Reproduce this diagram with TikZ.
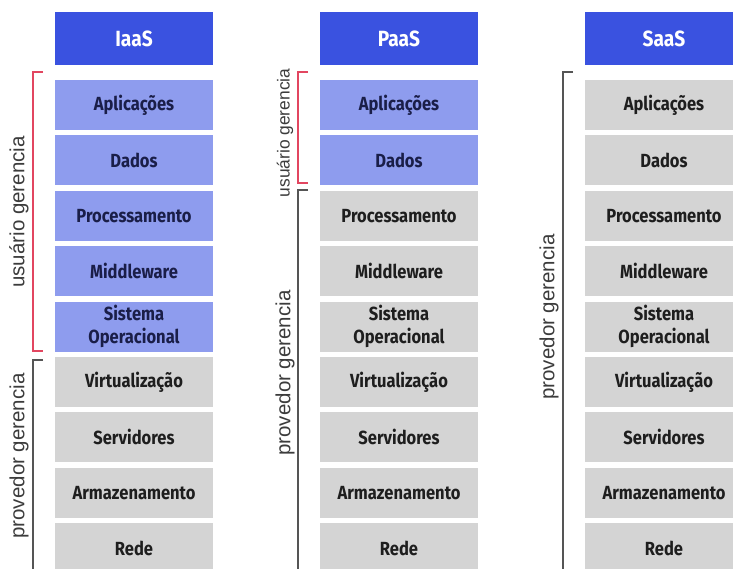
\documentclass[tikz,border=0pt]{standalone}
\usepackage{fontspec}
\setmainfont{Fira Sans}[FakeStretch=0.87]
\newfontfamily\labelfont{Liberation Sans}
\definecolor{hdblue}{RGB}{58,82,224}
\definecolor{usblue}{RGB}{142,156,238}
\definecolor{cellgray}{RGB}{212,212,212}
\definecolor{navy}{RGB}{26,30,72}
\definecolor{txtgray}{RGB}{30,30,30}
\definecolor{brred}{RGB}{226,70,96}
\definecolor{brgray}{RGB}{85,85,85}
\definecolor{labgray}{RGB}{60,60,60}
\begin{document}
\begin{tikzpicture}[x=1pt,y=-1pt,
  cell/.style={minimum width=158pt,minimum height=50pt,inner sep=0pt,align=center,
    font=\fontsize{19}{22.5}\selectfont\bfseries},
  head/.style={cell,minimum height=53pt,fill=hdblue,text=white,
    font=\fontsize{22}{26}\selectfont\bfseries},
  user/.style={cell,fill=usblue,text=navy},
  prov/.style={cell,fill=cellgray,text=txtgray},
  ubr/.style={draw=brred,line width=1.3pt},
  pbr/.style={draw=brgray,line width=1.2pt},
  lab/.style={rotate=90,inner sep=0pt,text=labgray,font=\labelfont\fontsize{20.5}{24}\selectfont},
  labs/.style={lab,font=\labelfont\fontsize{17.4}{20}\selectfont}]
\useasboundingbox (0,0) rectangle (733,569);
\clip (0,0) rectangle (733,569);
\fill[white] (0,0) rectangle (733,569);
% IaaS
\node[head] (ia-h) at (134,38.5) {IaaS};
\node[user] (ia-1) at (134,105) {Aplicações};
\node[user] (ia-2) at (134,160.4) {Dados};
\node[user] (ia-3) at (134,215.8) {Processamento};
\node[user] (ia-4) at (134,271.2) {Middleware};
\node[user] (ia-5) at (134,326.6) {Sistema\\Operacional};
\node[prov] (ia-6) at (134,382) {Virtualização};
\node[prov] (ia-7) at (134,437.4) {Servidores};
\node[prov] (ia-8) at (134,492.8) {Armazenamento};
\node[prov] (ia-9) at (134,548.2) {Rede};
% PaaS
\node[head] (pa-h) at (399,38.5) {PaaS};
\node[user] (pa-1) at (399,105) {Aplicações};
\node[user] (pa-2) at (399,160.4) {Dados};
\node[prov] (pa-3) at (399,215.8) {Processamento};
\node[prov] (pa-4) at (399,271.2) {Middleware};
\node[prov] (pa-5) at (399,326.6) {Sistema\\Operacional};
\node[prov] (pa-6) at (399,382) {Virtualização};
\node[prov] (pa-7) at (399,437.4) {Servidores};
\node[prov] (pa-8) at (399,492.8) {Armazenamento};
\node[prov] (pa-9) at (399,548.2) {Rede};
% SaaS
\node[head] (sa-h) at (664,38.5) {SaaS};
\node[prov] (sa-1) at (664,105) {Aplicações};
\node[prov] (sa-2) at (664,160.4) {Dados};
\node[prov] (sa-3) at (664,215.8) {Processamento};
\node[prov] (sa-4) at (664,271.2) {Middleware};
\node[prov] (sa-5) at (664,326.6) {Sistema\\Operacional};
\node[prov] (sa-6) at (664,382) {Virtualização};
\node[prov] (sa-7) at (664,437.4) {Servidores};
\node[prov] (sa-8) at (664,492.8) {Armazenamento};
\node[prov] (sa-9) at (664,548.2) {Rede};
% brackets
\draw[ubr] (43,72) -- (33,72) -- (33,351) -- (43,351);
\draw[pbr] (43,360) -- (33,360) -- (33,580);
\draw[ubr] (308,72) -- (298,72) -- (298,183) -- (308,183);
\draw[pbr] (308,190) -- (298,190) -- (298,580);
\draw[pbr] (573,72) -- (563,72) -- (563,580);
% labels
\node[lab] (ia-u) at (19,212) {usuário gerencia};
\node[lab] (ia-p) at (19,456) {provedor gerencia};
\node[labs] (pa-u) at (285,133) {usuário gerencia};
\node[lab] (pa-p) at (285,373) {provedor gerencia};
\node[lab] (sa-p) at (549,317) {provedor gerencia};
\end{tikzpicture}
\end{document}
